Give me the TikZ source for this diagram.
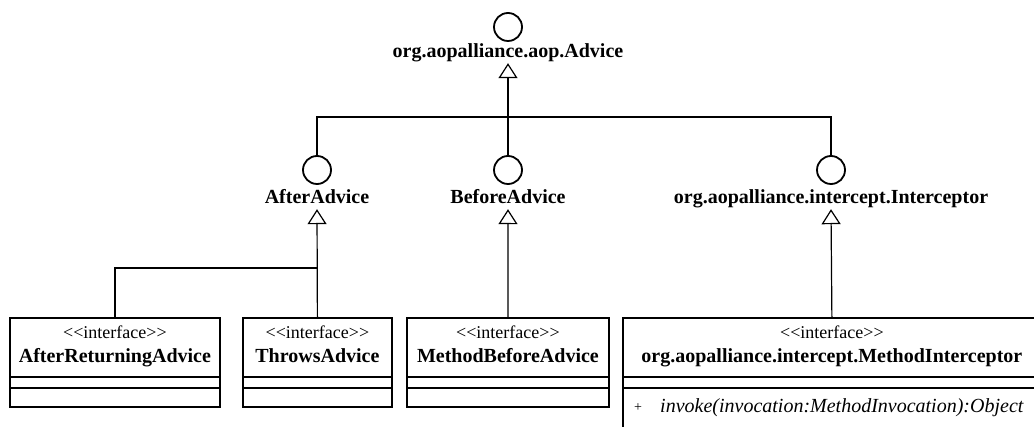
\documentclass[tikz,border=0pt]{standalone}
\usepackage{fontspec}
\setmainfont{Liberation Serif}
\usetikzlibrary{arrows.meta}
\begin{document}
\begin{tikzpicture}[x=1pt,y=-1pt,
  iface/.style={circle,draw,line width=1.8pt,minimum size=28pt,inner sep=0pt},
  lbl/.style={font=\fontsize{20}{24}\selectfont\bfseries,inner sep=0pt,
              text height=14pt,text depth=5pt,anchor=base},
  cls/.style={draw,line width=1.8pt,inner sep=0pt,anchor=north west},
  stereo/.style={font=\fontsize{18}{22}\selectfont,inner sep=0pt,anchor=base},
  cname/.style={font=\fontsize{20}{24}\selectfont\bfseries,inner sep=0pt,anchor=base},
  sep/.style={line width=1.5pt},
  link/.style={line width=1.2pt},
  gen/.style={link,-{Triangle[open,length=15pt,width=19pt,line width=1.2pt]}},
]
\clip (0,0) rectangle (1034,427);
\fill[white] (0,0) rectangle (1034,427);

% interfaces drawn as lollipops
\node[iface] (c0) at (508,27) {};
\node[lbl] (l0) at (508,58) {org.aopalliance.aop.Advice};
\node[iface] (c1) at (317,170) {};
\node[lbl] (l1) at (317,204) {AfterAdvice};
\node[iface] (c2) at (508,170) {};
\node[lbl] (l2) at (508,204) {BeforeAdvice};
\node[iface] (c3) at (831,170) {};
\node[lbl] (l3) at (831,204) {org.aopalliance.intercept.Interceptor};

% classes
\node[cls,minimum width=210pt,minimum height=89pt] (b1) at (9,317) {};
\node[cls,minimum width=149pt,minimum height=89pt] (b2) at (242,317) {};
\node[cls,minimum width=202pt,minimum height=89pt] (b3) at (406,317) {};
\node[cls,minimum width=418pt,minimum height=140pt] (b4) at (622,317) {};

\foreach \b in {b1,b2,b3,b4} {
  \draw[sep] (\b.west |- 0,377) -- (\b.east |- 0,377);
  \draw[sep] (\b.west |- 0,388) -- (\b.east |- 0,388);
  \node[stereo] at (\b.center |- 0,339) {<\kern0pt<interface>\kern0pt>};
}
\node[cname] (n1) at (b1.center |- 0,363) {AfterReturningAdvice};
\node[cname] (n2) at (b2.center |- 0,363) {ThrowsAdvice};
\node[cname] (n3) at (b3.center |- 0,363) {MethodBeforeAdvice};
\node[cname] (n4) at (b4.center |- 0,363) {org.aopalliance.intercept.MethodInterceptor};
\node[font=\fontsize{14}{16}\selectfont,inner sep=0pt,anchor=base] (vis) at (638,412) {+};
\node[font=\fontsize{20}{24}\selectfont\itshape,inner sep=0pt,anchor=base west] (op) at (660,413)
  {invoke(invocation:MethodInvocation):Object};

% junctions of the generalization trees
\coordinate (j0) at (508,117);
\coordinate (j1) at (317,268);

% generalizations
\draw[gen] (c2.north) -- (l0.south);
\draw[link] (c1.north) |- (j0);
\draw[link] (c3.north) |- (j0);

\draw[gen] (b2.north) -- (l1.south);
\draw[link] (b1.north) |- (j1);

\draw[gen] (b3.north) -- (l2.south);
\draw[gen] (b4.north) -- (l3.south);
\end{tikzpicture}
\end{document}
